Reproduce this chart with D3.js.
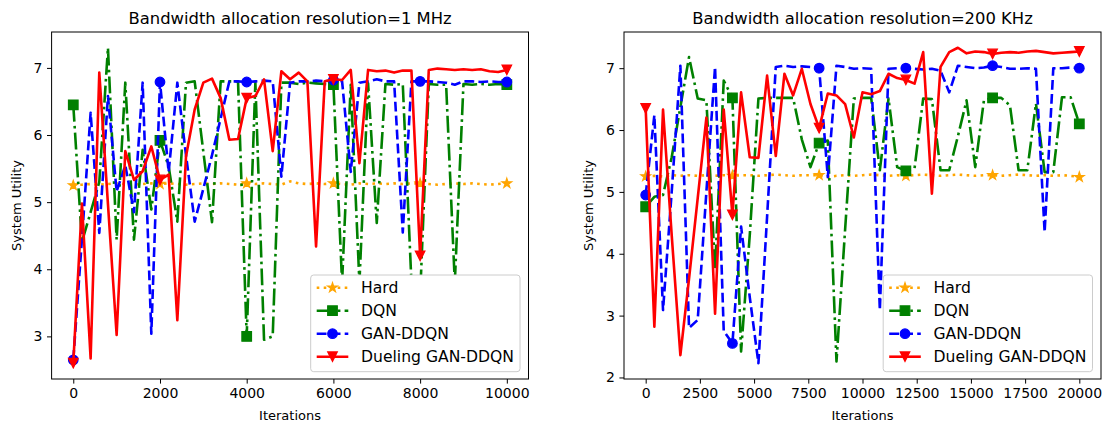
<!DOCTYPE html>
<html lang="en">
<head>
<meta charset="UTF-8">
<title>System Utility</title>
<script src="https://d3js.org/d3.v7.min.js"></script>
<style>
    body { margin: 0; background: #fff; }
    svg { font-family: "DejaVu Sans", sans-serif; }
</style>
</head>
<body>
<svg id="chart" width="1107" height="429"></svg>
<script>
    // ---- data ----
    var seriesNames = ["Hard", "DQN", "GAN-DDQN", "Dueling GAN-DDQN"];

    var itersLeft = [0,200,400,600,800,1000,1200,1400,1600,1800,2000,2200,2400,2600,2800,3000,3200,3400,3600,3800,
        4000,4200,4400,4600,4800,5000,5200,5400,5600,5800,6000,6200,6400,6600,6800,7000,7200,7400,7600,7800,
        8000,8200,8400,8600,8800,9000,9200,9400,9600,9800,10000];
    var itersRight = [0,400,800,1200,1600,2000,2400,2800,3200,3600,4000,4400,4800,5200,5600,6000,6400,6800,7200,7600,
        8000,8400,8800,9200,9600,10000,10400,10800,11200,11600,12000,12400,12800,13200,13600,14000,14400,14800,15200,15600,
        16000,16400,16800,17200,17600,18000,18400,18800,19200,19600,20000];

    var hardLeft = [5.25,5.26,5.27,5.26,5.27,5.28,5.27,5.26,5.27,5.28,5.27,5.28,5.27,5.26,5.27,5.28,5.27,5.28,5.27,5.26,
        5.28,5.27,5.28,5.27,5.26,5.31,5.28,5.27,5.28,5.27,5.28,5.27,5.26,5.28,5.27,5.28,5.27,5.28,5.27,5.28,
        5.28,5.27,5.26,5.27,5.28,5.27,5.28,5.27,5.26,5.27,5.28];
    var dqnLeft = [6.45,4.41,4.85,5.3,7.3,4.44,6.78,4.44,5.78,4.89,5.92,5.53,4.71,6.78,6.8,5.75,4.7,6.8,6.8,6.8,
        3.0,6.78,2.95,3.0,6.78,6.78,6.76,6.78,6.77,6.76,6.75,3.8,6.75,3.8,6.77,4.69,6.76,6.75,6.76,3.8,
        3.6,6.76,6.75,6.75,3.8,6.76,6.75,6.76,6.75,6.76,6.75];
    var ganLeft = [2.65,4.45,6.33,4.54,6.58,5.16,5.55,4.85,6.78,3.04,6.79,5.45,6.78,5.7,4.71,5.2,5.7,6.25,6.8,6.8,
        6.79,6.8,6.81,6.8,5.38,6.78,6.8,6.8,6.81,6.8,6.82,6.8,5.45,6.78,6.8,6.83,6.8,6.8,4.55,6.8,
        6.8,6.8,6.79,6.78,6.75,6.8,6.8,6.79,6.8,6.79,6.79];
    var duelLeft = [2.6,4.98,2.67,6.93,4.97,3.02,5.76,5.33,5.46,5.83,5.33,5.41,3.24,5.68,6.38,6.78,6.84,6.55,5.93,5.94,
        6.55,6.58,6.83,5.76,6.95,6.83,6.93,6.8,4.34,6.8,6.83,6.82,6.97,5.58,6.97,6.95,6.96,6.93,6.96,6.96,
        4.2,6.97,6.99,6.98,6.97,6.98,6.97,6.98,6.95,6.94,6.97];

    var hardRight = [5.25,5.26,5.25,5.27,5.26,5.27,5.26,5.27,5.26,5.27,5.26,5.27,5.27,5.26,5.27,5.28,5.27,5.26,5.27,5.27,
        5.27,5.24,5.26,5.27,5.26,5.27,5.28,5.27,5.26,5.27,5.26,5.27,5.28,5.27,5.26,5.27,5.28,5.27,5.26,5.27,
        5.27,5.26,5.27,5.28,5.27,5.26,5.27,5.26,5.27,5.26,5.24];
    var dqnRight = [4.76,4.92,4.95,5.56,6.37,7.18,6.51,6.48,3.75,6.8,6.52,2.42,4.3,6.51,6.52,6.52,6.52,6.52,5.85,5.4,
        5.79,5.83,2.26,4.4,6.51,6.52,6.52,5.35,6.51,5.4,5.34,5.38,6.51,6.5,5.35,5.35,5.9,6.48,5.4,6.48,
        6.52,6.52,6.4,5.35,5.35,6.43,5.32,5.32,6.53,6.53,6.1];
    var ganRight = [4.95,6.24,3.09,5.0,7.04,2.8,2.93,5.0,7.02,2.75,2.55,4.44,3.3,2.23,4.6,7.02,7.04,7.02,7.03,7.02,
        7.0,5.24,7.04,7.02,6.99,7.0,6.99,3.09,6.99,7.0,7.0,6.99,6.98,6.99,6.96,6.61,7.04,7.02,7.0,7.01,
        7.04,7.02,6.99,6.99,7.0,6.99,4.35,7.0,7.0,7.01,7.0];
    var duelRight = [6.35,2.82,6.33,4.3,2.36,3.6,4.9,6.2,3.03,6.33,4.63,6.61,5.56,5.55,6.88,5.58,6.91,6.56,6.99,6.42,
        6.03,6.59,6.56,6.42,5.88,6.61,6.58,6.63,6.91,6.84,6.81,6.75,7.26,4.97,7.02,7.26,7.33,7.24,7.27,7.26,
        7.23,7.25,7.26,7.25,7.27,7.28,7.26,7.24,7.25,7.26,7.27];

    var xTicksLeft = [0, 2000, 4000, 6000, 8000, 10000];
    var xTicksRight = [0, 2500, 5000, 7500, 10000, 12500, 15000, 17500, 20000];
    var yTicksLeft = [3, 4, 5, 6, 7];
    var yTicksRight = [2, 3, 4, 5, 6, 7];

    // ---- style ----
    var colors = ["orange", "green", "blue", "red"];
    var dashes = ["2.6,4.4", "16.9,4.2,2.6,4.2", "9.8,4.2", null];
    var markers = ["star", "square", "circle", "triangle"];
    var markEvery = 10;
    var lineW = 2.6, markR = 4.8;

    var svg = d3.select("#chart");
    var plotTop = 32, plotBottom = 379;

    function markerPath(type, r) {
        var p = d3.path();
        if (type === "circle") {
            p.arc(0, 0, r, 0, 2 * Math.PI);
        } else if (type === "square") {
            p.rect(-r, -r, 2 * r, 2 * r);
        } else if (type === "triangle") {
            p.moveTo(-r, -r); p.lineTo(r, -r); p.lineTo(0, r); p.closePath();
        } else if (type === "star") {
            for (var k = 0; k < 10; k++) {
                var rr = k % 2 === 0 ? r * 1.05 : r * 1.05 * 0.381966;
                var a = -Math.PI / 2 + k * Math.PI / 5;
                if (k === 0) p.moveTo(rr * Math.cos(a), rr * Math.sin(a));
                else p.lineTo(rr * Math.cos(a), rr * Math.sin(a));
            }
            p.closePath();
        }
        return p.toString();
    }

    function padded(ext) {
        var d = (ext[1] - ext[0]) * 0.05;
        return [ext[0] - d, ext[1] + d];
    }

    function drawPanel(cfg) {
        var g = svg.append("g");
        var x = d3.scaleLinear().domain(padded(d3.extent(cfg.iters))).range([cfg.left, cfg.right]);
        var all = [].concat.apply([], cfg.series);
        var y = d3.scaleLinear().domain(padded(d3.extent(all))).range([plotBottom, plotTop]);

        var clipId = "clip" + cfg.id;
        svg.append("clipPath").attr("id", clipId)
            .append("rect")
            .attr("x", cfg.left).attr("y", plotTop)
            .attr("width", cfg.right - cfg.left).attr("height", plotBottom - plotTop);

        var plot = g.append("g").attr("clip-path", "url(#" + clipId + ")");
        var line = d3.line()
            .x(function (d, i) { return x(cfg.iters[i]); })
            .y(function (d) { return y(d); });

        cfg.series.forEach(function (vals, s) {
            plot.append("path")
                .attr("d", line(vals))
                .attr("fill", "none")
                .attr("stroke", colors[s])
                .attr("stroke-width", lineW)
                .attr("stroke-linejoin", "round")
                .attr("stroke-dasharray", dashes[s]);
            plot.selectAll(null)
                .data(vals.map(function (v, i) { return [cfg.iters[i], v]; })
                    .filter(function (d, i) { return i % markEvery === 0; }))
                .enter()
                .append("path")
                .attr("transform", function (d) { return "translate(" + x(d[0]) + "," + y(d[1]) + ")"; })
                .attr("d", markerPath(markers[s], markR))
                .attr("fill", colors[s])
                .attr("stroke", colors[s])
                .attr("stroke-width", 1.2);
        });

        // axes
        var xAxis = g.append("g")
            .attr("transform", "translate(0," + plotBottom + ")")
            .call(d3.axisBottom(x).tickValues(cfg.xTicks).tickFormat(d3.format("d"))
                .tickSizeOuter(0).tickSize(4.6).tickPadding(4.5));
        var yAxis = g.append("g")
            .attr("transform", "translate(" + cfg.left + ",0)")
            .call(d3.axisLeft(y).tickValues(cfg.yTicks).tickFormat(d3.format("d"))
                .tickSizeOuter(0).tickSize(4.6).tickPadding(4.5));
        [xAxis, yAxis].forEach(function (a) {
            a.select(".domain").remove();
            a.selectAll("line").attr("stroke", "#000").attr("stroke-width", 1);
            a.selectAll("text").attr("fill", "#000")
                .style("font-family", "DejaVu Sans").style("font-size", "14px");
        });

        g.append("rect")
            .attr("x", cfg.left).attr("y", plotTop)
            .attr("width", cfg.right - cfg.left).attr("height", plotBottom - plotTop)
            .attr("fill", "none").attr("stroke", "#000").attr("stroke-width", 1);

        var cx = (cfg.left + cfg.right) / 2;
        g.append("text").attr("x", cx).attr("y", 24)
            .attr("text-anchor", "middle").style("font-size", "16.4px").text(cfg.title);
        g.append("text").attr("x", cx).attr("y", 420)
            .attr("text-anchor", "middle").style("font-size", "13px").text("Iterations");
        g.append("text")
            .attr("transform", "translate(" + (cfg.left - 31) + "," + ((plotTop + plotBottom) / 2) + ") rotate(-90)")
            .attr("text-anchor", "middle").style("font-size", "13px").text("System Utility");

        // legend
        var lg = g.append("g");
        var boxW = 209.3, boxH = 96.7;
        var bx = cfg.right - 8.5 - boxW, by = plotBottom - 7.3 - boxH;
        lg.append("rect")
            .attr("x", bx).attr("y", by).attr("width", boxW).attr("height", boxH)
            .attr("rx", 3).attr("fill", "#fff")
            .attr("stroke", "#ccc").attr("stroke-width", 1);
        seriesNames.forEach(function (name, s) {
            var ry = by + 12.7 + s * 23;
            lg.append("line")
                .attr("x1", bx + 6).attr("x2", bx + 37.6)
                .attr("y1", ry).attr("y2", ry)
                .attr("stroke", colors[s]).attr("stroke-width", lineW)
                .attr("stroke-dasharray", dashes[s]);
            lg.append("path")
                .attr("transform", "translate(" + (bx + 21.8) + "," + ry + ")")
                .attr("d", markerPath(markers[s], markR))
                .attr("fill", colors[s]).attr("stroke", colors[s]).attr("stroke-width", 1.2);
            lg.append("text")
                .attr("x", bx + 50.3).attr("y", ry).attr("dy", "0.36em")
                .style("font-size", "15.6px").text(name);
        });
    }

    drawPanel({
        id: "L", left: 51.6, right: 528.5, iters: itersLeft,
        series: [hardLeft, dqnLeft, ganLeft, duelLeft],
        xTicks: xTicksLeft, yTicks: yTicksLeft,
        title: "Bandwidth allocation resolution=1 MHz"
    });
    drawPanel({
        id: "R", left: 624, right: 1101, iters: itersRight,
        series: [hardRight, dqnRight, ganRight, duelRight],
        xTicks: xTicksRight, yTicks: yTicksRight,
        title: "Bandwidth allocation resolution=200 KHz"
    });
</script>
</body>
</html>
